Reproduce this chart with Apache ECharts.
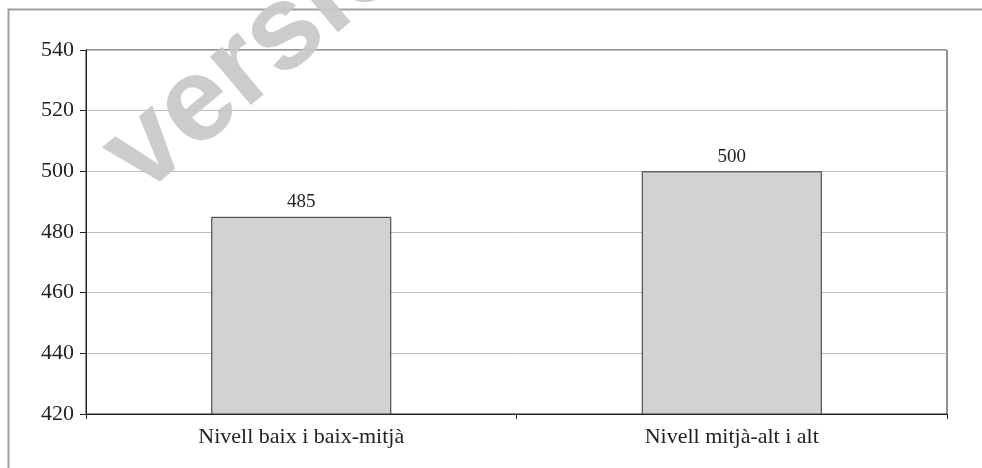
<!DOCTYPE html>
<html>
<head>
<meta charset="utf-8">
<script src="https://cdn.jsdelivr.net/npm/echarts@6/dist/echarts.min.js"></script>
<style>html,body{margin:0;padding:0;background:#fff;}#c{width:982px;height:468px;}</style>
</head>
<body>
<div id="c"></div>
<script>
const categories = ['Nivell baix i baix-mitjà', 'Nivell mitjà-alt i alt'];
const values = [485, 500];
const yMin = 420, yMax = 540, yStep = 20;

const chart = echarts.init(document.getElementById('c'), null, {renderer: 'canvas'});
const serif = '"Liberation Serif", "DejaVu Serif", serif';
chart.setOption({
  animation: false,
  backgroundColor: '#fff',
  grid: {left: 86, top: 50, right: 35, bottom: 54, show: true, borderColor: '#222', borderWidth: 1, backgroundColor: 'transparent'},
  xAxis: {
    type: 'category',
    data: categories,
    axisLine: {lineStyle: {color: '#222', width: 1}},
    axisTick: {show: true, interval: 0, length: 5, inside: false, alignWithLabel: false, lineStyle: {color: '#222'}},
    axisLabel: {fontFamily: serif, fontSize: 22, color: '#222', margin: 12}
  },
  yAxis: {
    type: 'value',
    min: yMin, max: yMax, interval: yStep,
    axisLine: {show: true, lineStyle: {color: '#222', width: 1}},
    axisTick: {show: true, length: 6, lineStyle: {color: '#222'}},
    axisLabel: {fontFamily: serif, fontSize: 22, color: '#222', margin: 12},
    splitLine: {show: true, lineStyle: {color: '#bdbdbd', width: 1}}
  },
  series: [{
    type: 'bar',
    data: values,
    barWidth: 180,
    itemStyle: {color: '#d1d2d4', borderColor: '#333', borderWidth: 1},
    label: {show: true, position: 'top', distance: 5, fontFamily: serif, fontSize: 19, color: '#222'}
  }],
  graphic: [
    {type: 'rect', shape: {x: 8.5, y: 9.5, width: 1100, height: 600}, style: {fill: 'none', stroke: '#a0a0a0', lineWidth: 2}, silent: true, z: 0},
    {type: 'text', x: 121, y: 171, rotation: 40 * Math.PI / 180, z: 100,
     style: {text: 'versió', fill: 'rgba(198,198,198,0.9)', font: 'bold 120px "Liberation Sans", Arial, sans-serif', textAlign: 'left', textVerticalAlign: 'middle'}}
  ]
});
</script>
</body>
</html>
